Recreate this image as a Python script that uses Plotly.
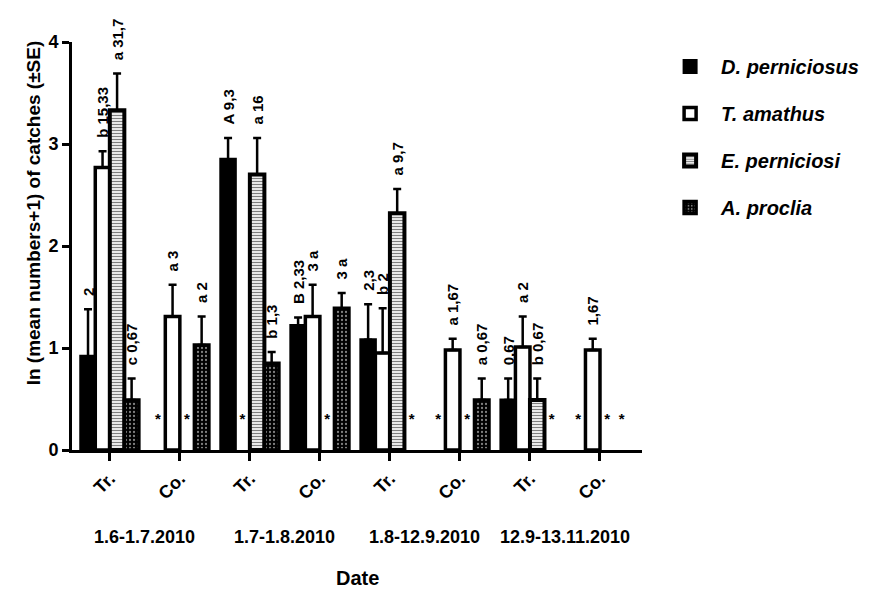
import plotly.graph_objects as go

# ---------------- data ----------------
DATES = ["1.6-1.7.2010", "1.7-1.8.2010", "1.8-12.9.2010", "12.9-13.11.2010"]
TREATMENTS = ["Tr.", "Co."]
SPECIES = ["D. perniciosus", "T. amathus", "E. perniciosi", "A. proclia"]

# order of groups: Tr1, Co1, Tr2, Co2, Tr3, Co3, Tr4, Co4
D_MEAN = [0.92, 0.00, 2.85, 1.22, 1.08, 0.00, 0.49, 0.00]
D_SE = [0.46, 0.00, 0.21, 0.08, 0.35, 0.00, 0.21, 0.00]
D_LABEL = ["2", "*", "A 9,3", "B 2,33", "2,3", "*", "0,67", "*"]

T_MEAN = [2.77, 1.31, 0.00, 1.31, 0.95, 0.98, 1.01, 0.98]
T_SE = [0.16, 0.31, 0.00, 0.31, 0.44, 0.11, 0.30, 0.11]
T_LABEL = ["b 15,33", "a 3", "*", "3 a", "b 2", "a 1,67", "a 2", "1,67"]

E_MEAN = [3.33, 0.00, 2.70, 0.00, 2.32, 0.00, 0.49, 0.00]
E_SE = [0.36, 0.00, 0.36, 0.00, 0.24, 0.00, 0.21, 0.00]
E_LABEL = ["a 31,7", "*", "a 16", "*", "a 9,7", "*", "b 0,67", "*"]

A_MEAN = [0.49, 1.03, 0.85, 1.39, 0.00, 0.49, 0.00, 0.00]
A_SE = [0.21, 0.28, 0.11, 0.15, 0.00, 0.21, 0.00, 0.00]
A_LABEL = ["c 0,67", "a 2", "b 1,3", "3 a", "*", "a 0,67", "*", "*"]

Y_TICKS = [0, 1, 2, 3, 4]
Y_TITLE = "ln (mean numbers+1) of catches (±SE)"
X_TITLE = "Date"

# ---------------- styling ----------------
FONT = "Liberation Sans, Arial, sans-serif"
STAR_Y = 0.20          # height at which the '*' (zero catch) markers sit
LABEL_PAD = 0.10       # gap between error bar cap and its label (data units)
LABEL_EPS = 0.001      # tiny carrier bar for the labels

cats = [f"{d} {t}" for d in DATES for t in TREATMENTS]
tick_text = [t for d in DATES for t in TREATMENTS]

series = [
    (SPECIES[0], D_MEAN, D_SE, D_LABEL,
     dict(color="black"), 3),
    (SPECIES[1], T_MEAN, T_SE, T_LABEL,
     dict(color="white"), 3.5),
    (SPECIES[2], E_MEAN, E_SE, E_LABEL,
     dict(color="white",
          pattern=dict(shape="-", fgcolor="black", bgcolor="white",
                       size=3, solidity=0.45)), 4),
    (SPECIES[3], A_MEAN, A_SE, A_LABEL,
     dict(color="black",
          pattern=dict(shape=".", fgcolor="white", bgcolor="black",
                       size=4, solidity=0.25)), 3.5),
]

fig = go.Figure()
for i, (name, mean, se, labels, marker, lw) in enumerate(series):
    og = f"g{i}"
    marker = dict(marker)
    marker["line"] = dict(color="black", width=lw)
    # zero catches are not drawn as bars (they are flagged with '*')
    shown = [m if m > 0 else None for m in mean]
    fig.add_trace(go.Bar(
        x=cats, y=shown, name=f"<b><i>{name}</i></b>",
        offsetgroup=og, legendgroup=og, marker=marker,
        error_y=dict(type="data", array=se, arrayminus=[0] * len(se),
                     symmetric=False, color="black", thickness=2.5, width=4),
        hoverinfo="skip",
    ))
    # rotated value labels above the error bars
    lab_base = [m + s + LABEL_PAD if m > 0 else 0 for m, s in zip(mean, se)]
    lab_txt = [l if m > 0 else "" for l, m in zip(labels, mean)]
    fig.add_trace(go.Bar(
        x=cats, y=[LABEL_EPS] * len(cats), base=lab_base,
        offsetgroup=og, showlegend=False, legendgroup=og,
        marker=dict(color="rgba(0,0,0,0)", line=dict(width=0)),
        text=lab_txt, textposition="outside", textangle=-90,
        constraintext="none", cliponaxis=False,
        textfont=dict(family=FONT, size=15, color="black", weight="bold"),
        hoverinfo="skip",
    ))
    # stars for zero catches
    star_base = [STAR_Y if m == 0 else 0 for m in mean]
    star_txt = [l if m == 0 else "" for l, m in zip(labels, mean)]
    fig.add_trace(go.Bar(
        x=cats, y=[LABEL_EPS] * len(cats), base=star_base,
        offsetgroup=og, showlegend=False, legendgroup=og,
        marker=dict(color="rgba(0,0,0,0)", line=dict(width=0)),
        text=star_txt, textposition="outside", textangle=0,
        constraintext="none", cliponaxis=False,
        textfont=dict(family=FONT, size=15, color="black", weight="bold"),
        hoverinfo="skip",
    ))

# date labels under the treatment labels
annotations = []
for k, d in enumerate(DATES):
    annotations.append(dict(
        x=2 * k + 0.5, xref="x", y=0, yref="paper", yshift=-87,
        text=f"<b>{d}</b>", showarrow=False, xanchor="center", yanchor="middle",
        font=dict(family=FONT, size=18, color="black"),
    ))
annotations.append(dict(
    x=0.5, xref="paper", y=0, yref="paper", yshift=-128,
    text=f"<b>{X_TITLE}</b>", showarrow=False, xanchor="center", yanchor="middle",
    font=dict(family=FONT, size=20, color="black"),
))
annotations.append(dict(
    x=0, xref="paper", xshift=-39, y=0.58, yref="paper",
    text=f"<b>{Y_TITLE}</b>", showarrow=False, textangle=-90,
    xanchor="center", yanchor="middle",
    font=dict(family=FONT, size=19, color="black"),
))

fig.update_layout(
    width=876, height=591,
    margin=dict(l=64, r=242, t=34, b=149),
    paper_bgcolor="white", plot_bgcolor="white",
    barmode="group", bargap=0.17, bargroupgap=0.0,
    font=dict(family=FONT, color="black"),
    showlegend=True,
    legend=dict(x=1.03, y=0.988, xanchor="left", yanchor="top",
                font=dict(family=FONT, size=20, color="black"),
                tracegroupgap=18, itemwidth=52, bgcolor="rgba(0,0,0,0)"),
    annotations=annotations,
)
fig.update_xaxes(
    type="category", categoryorder="array", categoryarray=cats,
    tickmode="array", tickvals=cats, ticktext=[f"<b>{t}</b>" for t in tick_text],
    tickangle=-45, ticks="outside", ticklen=8, tickwidth=3, tickcolor="black",
    tickfont=dict(family=FONT, size=18, color="black"),
    showline=True, linecolor="black", linewidth=3, showgrid=False, zeroline=False,
    range=[-0.54, 7.6],
)
fig.update_yaxes(
    range=[0, 4], tickmode="array", tickvals=Y_TICKS,
    ticktext=[f"<b>{v}</b>" for v in Y_TICKS],
    ticks="outside", ticklen=7, tickwidth=3, tickcolor="black",
    tickfont=dict(family=FONT, size=18, color="black"),
    showline=True, linecolor="black", linewidth=3, showgrid=False, zeroline=False,
)

fig.write_html("out.html")
